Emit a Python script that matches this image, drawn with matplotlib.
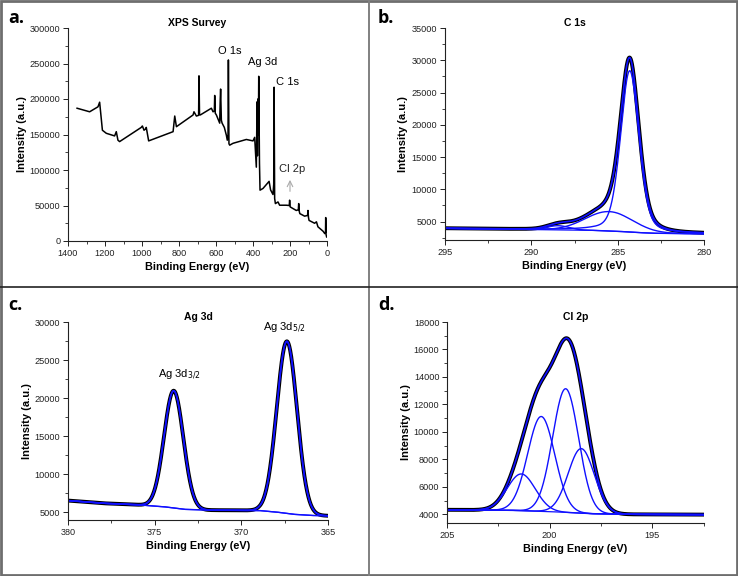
import numpy as np
import matplotlib
matplotlib.use("Agg")
import matplotlib.pyplot as plt
from matplotlib.ticker import MultipleLocator
from matplotlib.patches import Rectangle
from matplotlib.lines import Line2D

plt.rcParams['font.family'] = ['Liberation Sans', 'DejaVu Sans']

# ---------------- Data ----------------
# (a) XPS survey
survey_energy = [1351, 1283, 1238, 1229, 1214, 1193, 1148, 1139, 1130, 1121, 1004, 998, 989, 980, 977,
                 964, 832, 823, 814, 724, 719, 706, 694, 692, 689, 685, 625, 616, 609, 607, 604, 598, 580,
                 577, 575, 571, 567, 555, 544, 539, 535, 533, 530, 526, 508, 436, 400, 391, 382, 378, 376,
                 374, 371, 369, 365, 362, 346, 313, 305, 292, 288, 286, 283, 279, 265, 256, 220, 204,
                 202, 199, 166, 155, 153, 150, 147, 121, 105, 103, 100, 97, 67, 57, 49, 21, 12, 8, 7, 5, 2]
survey_intensity = [187000, 182000, 189000, 195500, 156000, 151700, 148000, 154000, 142000, 140000,
                    160000, 162000, 156000, 158000, 160000, 141000, 154000, 176000, 161000, 177500,
                    182000, 176000, 177000, 232600, 178000, 177500, 187000, 182000, 183000, 205000,
                    180000, 177500, 166000, 200000, 214000, 170000, 166000, 160000, 149000, 142000,
                    150000, 255000, 137000, 135000, 137600, 143000, 141000, 146000, 104000, 196000,
                    120000, 200000, 150000, 232000, 110000, 71600, 74000, 84000, 72000, 65500, 80000,
                    216600, 60000, 52700, 55000, 50400, 50400, 50000, 57500, 48000, 43000, 44000,
                    52700, 42000, 38600, 35000, 36000, 43000, 33000, 29000, 25000, 27000, 20000,
                    13700, 10400, 12000, 33000, 9000, 5700]
survey_labels = ["O 1s", "Ag 3d", "C 1s", "Cl 2p"]
survey_label_pos = [(527, 268000), (347, 252000), (216, 224500), (189, 102000)]

# (b) C 1s: peak centers (eV), heights above background (a.u.), FWHM (eV), Lorentzian fraction
c1s_center = [284.3, 285.5, 288.45]
c1s_height = [25000, 3000, 650]
c1s_fwhm = [1.25, 3.2, 1.5]
c1s_mix = [0.3, 0.0, 0.0]
c1s_bg_energy = [295, 290, 288, 286.5, 285, 284, 283, 282, 280]
c1s_bg_level = [3950, 3780, 3700, 3650, 3500, 3330, 3200, 3160, 3120]

# (c) Ag 3d
ag_center = [373.9, 367.37]
ag_height = [15400, 22600]
ag_fwhm = [1.31, 1.38]
ag_mix = [0.0, 0.0]
ag_bg_energy = [380, 378, 376, 374.5, 373.3, 372, 369, 368, 367, 366, 365]
ag_bg_level = [6550, 6200, 6000, 5750, 5400, 5300, 5250, 5050, 4750, 4600, 4550]
ag_labels = ["Ag 3d$_{3/2}$", "Ag 3d$_{5/2}$"]
ag_label_pos = [(373.56, 23080), (367.5, 29200)]

# (d) Cl 2p
cl_center = [201.38, 200.41, 199.22, 198.46]
cl_height = [2670, 6900, 9000, 4700]
cl_fwhm = [1.6, 1.55, 1.49, 1.5]
cl_mix = [0.0, 0.0, 0.0, 0.0]
cl_bg_energy = [205, 202, 200, 198, 196, 192.5]
cl_bg_level = [4330, 4300, 4200, 4050, 4000, 3980]

BLUE = '#1010ff'


def peak(E, c, h, w, eta):
    s = w / 2.3548
    g = np.exp(-0.5 * ((E - c) / s) ** 2)
    lor = 1.0 / (1.0 + ((E - c) / (w / 2)) ** 2)
    return h * ((1 - eta) * g + eta * lor)


def style_axes(ax, title, ylab_x):
    for side in ('top', 'right'):
        ax.spines[side].set_visible(False)
    for side in ('left', 'bottom'):
        ax.spines[side].set_linewidth(0.8)
        ax.spines[side].set_color('#222222')
    ax.tick_params(which='major', direction='out', length=3.5, width=0.7, labelsize=6.6,
                   colors='#222222', pad=2)
    ax.tick_params(which='minor', direction='out', length=2.2, width=0.6, colors='#222222')
    ax.set_xlabel('Binding Energy (eV)', fontsize=7.8, fontweight='bold', labelpad=3)
    ax.set_ylabel('Intensity (a.u.)', fontsize=8, fontweight='bold')
    ax.yaxis.set_label_coords(ylab_x, 0.5)
    ax.set_title(title, fontsize=7.5, fontweight='bold', pad=1.5)


def fit_panel(ax, center, height, fwhm, mix, bg_e, bg_i, xlim):
    E = np.linspace(xlim[0], xlim[1], 1500)
    bg = np.interp(E, bg_e[::-1], bg_i[::-1])
    comps = [peak(E, c, h, w, m) for c, h, w, m in zip(center, height, fwhm, mix)]
    env = bg + np.sum(comps, axis=0)
    ax.plot(E, env, color='black', lw=2.8, solid_capstyle='round')
    ax.plot(E, bg, color=BLUE, lw=0.9)
    for comp in comps:
        ax.plot(E, bg + comp, color=BLUE, lw=1.0)
    ax.plot(E, env, color=BLUE, lw=1.2)


fig = plt.figure(figsize=(7.38, 5.76), dpi=100)

# panel frames
fig.add_artist(Rectangle((0.002, 0.002), 0.996, 0.996, transform=fig.transFigure,
                         fill=False, ec='#6e6e6e', lw=2.0))
fig.add_artist(Line2D([369 / 738, 369 / 738], [0, 1], transform=fig.transFigure,
                      color='#808080', lw=1.4))
fig.add_artist(Line2D([0, 1], [1 - 287 / 576, 1 - 287 / 576], transform=fig.transFigure,
                      color='#222222', lw=1.2))

# ---- (a) survey
axa = fig.add_axes([68 / 738, 1 - 241 / 576, 259 / 738, 213 / 576])
axa.plot(survey_energy, survey_intensity, color='black', lw=1.1)
axa.set_xlim(1400, 0)
axa.set_ylim(0, 300000)
axa.xaxis.set_major_locator(MultipleLocator(200))
axa.xaxis.set_minor_locator(MultipleLocator(100))
axa.yaxis.set_major_locator(MultipleLocator(50000))
axa.yaxis.set_minor_locator(MultipleLocator(25000))
style_axes(axa, 'XPS Survey', -0.158)
for lab, (x, y) in zip(survey_labels, survey_label_pos):
    axa.text(x, y, lab, fontsize=8, ha='center', va='center',
             color='black' if lab != 'Cl 2p' else '#222222')
axa.annotate('', xy=(200, 90000), xytext=(200, 66000),
             arrowprops=dict(arrowstyle='->', color='#aaaaaa', lw=0.8))

# ---- (b) C 1s
axb = fig.add_axes([445 / 738, 1 - 240 / 576, 259 / 738, 212 / 576])
fit_panel(axb, c1s_center, c1s_height, c1s_fwhm, c1s_mix, c1s_bg_energy, c1s_bg_level, (295, 280))
axb.set_xlim(295, 280)
axb.set_ylim(2150, 35000)
axb.xaxis.set_major_locator(MultipleLocator(5))
axb.xaxis.set_minor_locator(MultipleLocator(2.5))
axb.yaxis.set_major_locator(MultipleLocator(5000))
axb.yaxis.set_minor_locator(MultipleLocator(2500))
style_axes(axb, 'C 1s', -0.143)

# ---- (c) Ag 3d
axc = fig.add_axes([68 / 738, 1 - 520 / 576, 260 / 738, 198 / 576])
fit_panel(axc, ag_center, ag_height, ag_fwhm, ag_mix, ag_bg_energy, ag_bg_level, (380, 365))
axc.set_xlim(380, 365)
axc.set_ylim(4000, 30000)
axc.xaxis.set_major_locator(MultipleLocator(5))
axc.xaxis.set_minor_locator(MultipleLocator(2.5))
axc.yaxis.set_major_locator(MultipleLocator(5000))
axc.yaxis.set_minor_locator(MultipleLocator(2500))
style_axes(axc, 'Ag 3d', -0.138)
for lab, (x, y) in zip(ag_labels, ag_label_pos):
    axc.text(x, y, lab, fontsize=8, ha='center', va='center')

# ---- (d) Cl 2p
axd = fig.add_axes([447 / 738, 1 - 523 / 576, 257 / 738, 201 / 576])
fit_panel(axd, cl_center, cl_height, cl_fwhm, cl_mix, cl_bg_energy, cl_bg_level, (205, 192.48))
axd.set_xlim(205, 192.48)
axd.set_ylim(3370, 18000)
axd.xaxis.set_major_locator(MultipleLocator(5))
axd.xaxis.set_minor_locator(MultipleLocator(2.5))
axd.yaxis.set_major_locator(MultipleLocator(2000))
axd.yaxis.set_minor_locator(MultipleLocator(1000))
style_axes(axd, 'Cl 2p', -0.14)

# panel letters
for lab, (x, y) in zip(['a.', 'b.', 'c.', 'd.'], [(8, 18), (378, 18), (8, 305), (378, 305)]):
    fig.text(x / 738, 1 - y / 576, lab, fontsize=13, fontweight='bold',
             family=['Open Sans', 'DejaVu Sans'], ha='left', va='center')

fig.savefig('out.png', dpi=100)
